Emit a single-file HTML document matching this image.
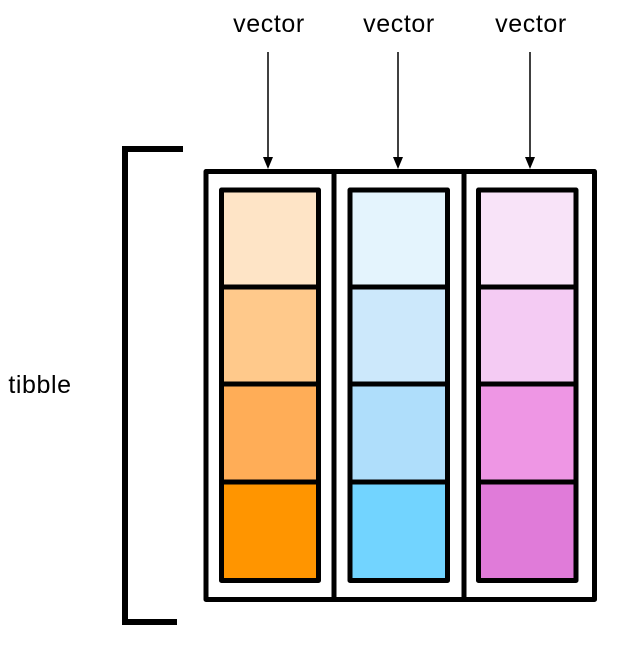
<!DOCTYPE html>
<html><head><style>body{margin:0;background:#fff}</style></head><body>
<svg width="620" height="642" xmlns="http://www.w3.org/2000/svg" font-family="Liberation Sans, sans-serif">
<g font-size="25" letter-spacing="0.6" text-anchor="middle" fill="#000">
<text x="269" y="32">vector</text><text x="399" y="32">vector</text><text x="531" y="32">vector</text>
<text x="40" y="393">tibble</text></g>
<g stroke="#000" stroke-width="1.5">
<line x1="268" y1="52" x2="268" y2="158"/><line x1="398" y1="52" x2="398" y2="158"/><line x1="530" y1="52" x2="530" y2="158"/></g>
<g fill="#000"><path d="M263,157 L273,157 L268,169 Z"/><path d="M393,157 L403,157 L398,169 Z"/><path d="M525,157 L535,157 L530,169 Z"/></g>
<path d="M183,149 L125,149 L125,622 L177,622" fill="none" stroke="#000" stroke-width="6"/>
<g stroke="#000" stroke-width="5" stroke-linejoin="round">
<rect x="221.5" y="190" width="97" height="97" fill="#FEE4C6"/><rect x="221.5" y="287" width="97" height="97" fill="#FFC98B"/><rect x="221.5" y="384" width="97" height="98" fill="#FFAD57"/><rect x="221.5" y="482" width="97" height="98.5" fill="#FF9500"/>
<rect x="350" y="190" width="97.5" height="97" fill="#E4F4FD"/><rect x="350" y="287" width="97.5" height="97" fill="#CCE8FB"/><rect x="350" y="384" width="97.5" height="98" fill="#AFDEFB"/><rect x="350" y="482" width="97.5" height="98.5" fill="#72D4FF"/>
<rect x="478.5" y="190" width="97.5" height="97" fill="#F8E3F8"/><rect x="478.5" y="287" width="97.5" height="97" fill="#F4CBF3"/><rect x="478.5" y="384" width="97.5" height="98" fill="#EE96E4"/><rect x="478.5" y="482" width="97.5" height="98.5" fill="#E07BD9"/>
<rect x="206" y="171.5" width="388.5" height="428" fill="none"/>
<line x1="334" y1="171.5" x2="334" y2="599.5"/><line x1="464" y1="171.5" x2="464" y2="599.5"/>
</g>
</svg>
</body></html>
